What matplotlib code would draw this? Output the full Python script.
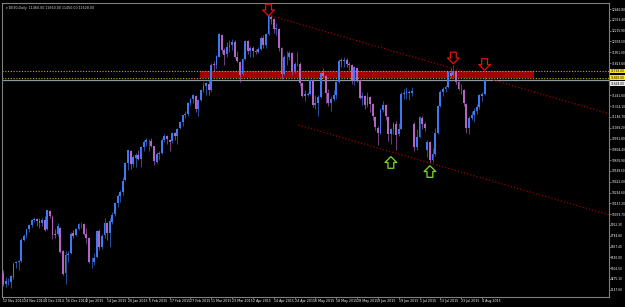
#!/usr/bin/env python3

import matplotlib
matplotlib.use("Agg")
import matplotlib.pyplot as plt
from matplotlib.path import Path
from matplotlib.transforms import blended_transform_factory

# daily bars, 12 Nov 2014 .. 5 Aug 2015 (index = bar number)
opens = [9350, 9215, 9250, 9240, 9300, 9460, 9470, 9490, 9740, 9790, 9860, 9915, 9975,
         9980, 9960, 9935, 9975, 9860, 10080, 10010, 9800, 9800, 9880, 9600, 9340, 9560,
         9580, 9815, 9790, 9870, 9920, 9925, 9800, 9760, 9470, 9475, 9530, 9840, 9650,
         9790, 9930, 9820, 9950, 10040, 10170, 10250, 10300, 10440, 10640, 10790, 10630,
         10700, 10740, 10690, 10830, 10890, 10900, 10900, 10840, 10660, 10750, 10760, 10920,
         10960, 10920, 10900, 11000, 10960, 11060, 11130, 11210, 11220, 11350, 11400, 11440,
         11280, 11390, 11500, 11550, 11580, 11500, 11810, 11800, 11900, 12160, 11980, 11930,
         12010, 12040, 12070, 11900, 11840, 11690, 11870, 12080, 11970, 12000, 11960, 11950,
         11990, 12120, 12040, 12170, 12370, 12340, 12230, 12230, 12000, 11690, 11890, 11900,
         11940, 11720, 11810, 11810, 11590, 11430, 11450, 11460, 11620, 11330, 11350, 11420,
         11710, 11670, 11470, 11350, 11400, 11450, 11600, 11850, 11850, 11860, 11810, 11800,
         11620, 11770, 11620, 11410, 11440, 11330, 11420, 11340, 11190, 11060, 11000, 11270,
         11330, 11190, 10980, 11040, 11100, 10980, 11050, 11460, 11470, 11470, 11470, 11100,
         10830, 10950, 11180, 11100, 10800, 10890, 10680, 10750, 11000, 11320, 11480, 11520,
         11540, 11710, 11680, 11730, 11600, 11520, 11510, 11340, 11060, 11170, 11210, 11260,
         11300, 11440, 11460]
highs = [9380, 9300, 9290, 9320, 9470, 9490, 9500, 9760, 9800, 9870, 9920, 9980, 10010,
         10000, 9990, 9990, 10020, 10093, 10090, 10030, 9870, 9930, 9890, 9620, 9600, 9600,
         9830, 9850, 9880, 9940, 9950, 9930, 9880, 9770, 9540, 9580, 9850, 9860, 9800,
         10000, 9950, 10000, 10060, 10180, 10280, 10320, 10480, 10660, 10800, 10800, 10740,
         10760, 10800, 10840, 10910, 10940, 10930, 10940, 10850, 10770, 10780, 10940, 10980,
         10970, 10930, 11010, 11010, 11060, 11140, 11210, 11260, 11360, 11410, 11460, 11450,
         11400, 11520, 11600, 11600, 11620, 11820, 11850, 11920, 12180, 12170, 12000, 12070,
         12100, 12110, 12090, 11960, 11850, 11880, 12100, 12100, 12020, 12020, 11990, 12010,
         12140, 12160, 12180, 12390, 12390, 12350, 12300, 12240, 12010, 11920, 11960, 11970,
         11950, 11840, 11950, 11830, 11600, 11500, 11480, 11640, 11640, 11450, 11450, 11720,
         11760, 11680, 11520, 11440, 11500, 11610, 11870, 11880, 11890, 11880, 11830, 11810,
         11790, 11780, 11640, 11480, 11450, 11480, 11440, 11350, 11200, 11080, 11290, 11370,
         11340, 11200, 11060, 11130, 11140, 11120, 11480, 11520, 11540, 11500, 11540, 11130,
         11050, 11200, 11200, 11130, 10920, 10900, 10820, 11060, 11330, 11500, 11540, 11560,
         11730, 11760, 11800, 11740, 11620, 11580, 11520, 11350, 11200, 11260, 11290, 11340,
         11460, 11480, 11660]
lows = [9190, 9180, 9200, 9170, 9280, 9400, 9380, 9480, 9720, 9760, 9830, 9890, 9950,
        9900, 9880, 9900, 9840, 9850, 9990, 9750, 9760, 9780, 9580, 9320, 9220, 9480,
        9570, 9760, 9780, 9850, 9880, 9790, 9700, 9460, 9400, 9440, 9520, 9620, 9630,
        9760, 9740, 9650, 9920, 10020, 10130, 10180, 10260, 10430, 10560, 10570, 10600,
        10600, 10680, 10600, 10780, 10850, 10780, 10830, 10620, 10640, 10680, 10750, 10890,
        10870, 10790, 10880, 10920, 10870, 11040, 11080, 11180, 11200, 11330, 11350, 11250,
        11200, 11380, 11480, 11450, 11450, 11480, 11730, 11750, 11890, 11940, 11800, 11900,
        11950, 11980, 11880, 11830, 11600, 11680, 11860, 11930, 11900, 11900, 11930, 11940,
        11980, 12000, 12000, 12160, 12290, 12180, 12160, 11960, 11640, 11680, 11800, 11860,
        11680, 11700, 11790, 11550, 11420, 11380, 11430, 11450, 11310, 11280, 11200, 11410,
        11650, 11350, 11320, 11260, 11380, 11400, 11590, 11780, 11780, 11780, 11740, 11580,
        11560, 11600, 11400, 11330, 11280, 11300, 11240, 11150, 11030, 10860, 10990, 11250,
        11150, 10900, 10870, 10980, 10800, 10960, 11040, 11400, 11400, 11390, 11430, 10780,
        10800, 10940, 11050, 11020, 10720, 10640, 10660, 10730, 10990, 11300, 11430, 11480,
        11530, 11650, 11660, 11580, 11500, 11460, 11320, 11000, 10990, 11150, 11130, 11220,
        11280, 11380, 11450]
closes = [9210, 9250, 9252, 9306, 9456, 9472, 9483, 9732, 9785, 9861, 9915, 9974, 9980,
          9963, 9934, 9971, 9851, 10087, 10014, 9799, 9799, 9903, 9594, 9334, 9563, 9564,
          9811, 9787, 9865, 9922, 9927, 9806, 9764, 9473, 9470, 9518, 9838, 9648, 9782,
          9941, 9817, 9960, 10032, 10168, 10257, 10299, 10436, 10649, 10798, 10628, 10710,
          10738, 10694, 10828, 10890, 10911, 10905, 10846, 10663, 10754, 10752, 10919, 10963,
          10924, 10895, 11001, 10961, 11050, 11131, 11205, 11211, 11354, 11401, 11448, 11280,
          11390, 11504, 11551, 11582, 11500, 11806, 11799, 11901, 12167, 11980, 11922, 12010,
          12040, 12076, 11896, 11844, 11683, 11868, 12086, 11967, 12001, 11968, 11950, 11990,
          12123, 12036, 12166, 12375, 12339, 12227, 12231, 11998, 11689, 11892, 11895, 11939,
          11723, 11811, 11811, 11586, 11432, 11454, 11460, 11623, 11327, 11351, 11417, 11709,
          11673, 11472, 11351, 11404, 11447, 11594, 11853, 11848, 11864, 11815, 11800, 11625,
          11772, 11625, 11413, 11436, 11327, 11419, 11340, 11197, 11064, 11001, 11265, 11333,
          11196, 10984, 11044, 11100, 10978, 11040, 11460, 11471, 11472, 11473, 11492, 10832,
          10945, 11181, 11099, 11059, 10890, 10676, 10747, 10997, 11316, 11485, 11516, 11539,
          11716, 11673, 11734, 11604, 11520, 11512, 11347, 11057, 11173, 11212, 11257, 11308,
          11444, 11456, 11628]

date_labels = ["12 Nov 2014", "24 Nov 2014", "4 Dec 2014", "16 Dec 2014", "2 Jan 2015",
               "14 Jan 2015", "26 Jan 2015", "5 Feb 2015", "17 Feb 2015", "27 Feb 2015",
               "11 Mar 2015", "23 Mar 2015", "2 Apr 2015", "14 Apr 2015", "24 Apr 2015",
               "6 May 2015", "18 May 2015", "28 May 2015", "9 Jun 2015", "19 Jun 2015",
               "1 Jul 2015", "13 Jul 2015", "23 Jul 2015", "4 Aug 2015"]

price_ticks = [12460.8, 12333.4, 12205.9, 12078.5, 11951.0, 11823.6, 11441.6,
               11314.1, 11186.7, 11059.2, 10931.8, 10804.4, 10676.9, 10549.5, 10422.0,
               10294.6, 10167.2, 10039.7, 9912.3, 9784.8, 9657.4, 9530.0, 9402.5, 9275.1,
               9147.6]

# drawn objects
zone_x = [75.5, 204]
zone_levels = [11729.0, 11650.0]
upper_line = ([102, 233], [12390, 11224])
lower_line = ([113.5, 233], [11092, 10030])
sell_arrows = ([102, 173, 185], [12449, 11883, 11806])
buy_arrows = ([149, 164], [10650, 10543])

UP = "#3d78f5"
DOWN = "#b465c4"
BG = "black"
GRID = "#7f7f7f"
FS = 2.1


def arrow_path(down=True):
    pts = [(-0.25, 0.5), (0.25, 0.5), (0.25, 0.0), (0.5, 0.0), (0.0, -0.5),
           (-0.5, 0.0), (-0.25, 0.0), (-0.25, 0.5)]
    if not down:
        pts = [(x, -y) for x, y in pts]
    return Path(pts, closed=True)


def main():
    fig = plt.figure(figsize=(6.25, 3.07), dpi=100, facecolor=BG)
    ax = fig.add_axes([2 / 625, 10 / 307, 607 / 625, 294 / 307], facecolor=BG)

    n = len(closes)
    ax.set_xlim(-0.4, 232.8)
    ax.set_ylim(9062, 12532)

    # zone + level lines
    ax.fill_between(zone_x, zone_levels[1], zone_levels[0], color="#a30000", lw=0, zorder=1)
    for lv in zone_levels:
        ax.axhline(lv, color="#c9a227", ls=(0, (1, 1.5)), lw=0.8, zorder=2)
    ax.axhline(closes[-1], color="#8c96a3", lw=0.9, zorder=2)

    # candles
    for i in range(n):
        o, h, l, c = opens[i], highs[i], lows[i], closes[i]
        col = UP if c >= o else DOWN
        ax.vlines(i, l, h, color=col, lw=0.6, alpha=0.75, zorder=3)
        ax.bar(i, max(abs(c - o), 6), bottom=min(o, c), width=0.72, color=col,
               lw=0, zorder=4)

    # channel
    ax.plot(*upper_line, color="#9b0000", ls=(0, (1, 1.6)), lw=0.9, zorder=5)
    ax.plot(*lower_line, color="#9b0000", ls=(0, (1, 1.6)), lw=0.9, zorder=5)

    # arrows
    ax.scatter(*sell_arrows, marker=arrow_path(True), s=70, facecolors="none",
               edgecolors="#e01010", linewidths=0.9, zorder=6)
    ax.scatter(*buy_arrows, marker=arrow_path(False), s=70, facecolors="none",
               edgecolors="#7ddc1f", linewidths=0.9, zorder=6)

    # axes look
    for side in ["left", "top", "right", "bottom"]:
        ax.spines[side].set_color(GRID)
        ax.spines[side].set_linewidth(0.8)
    ax.yaxis.tick_right()
    ax.set_yticks(price_ticks)
    ax.set_yticklabels(["%.2f" % v for v in price_ticks])
    ax.set_xticks(range(0, 8 * len(date_labels), 8))
    ax.set_xticklabels(date_labels)
    ax.tick_params(colors=GRID, labelcolor="white", labelsize=FS, length=1.2, width=0.6, pad=0.5)
    ax.tick_params(axis="x", labelsize=2.3)
    for lab in ax.get_xticklabels():
        lab.set_ha("left")

    tr = blended_transform_factory(ax.transAxes, ax.transData)
    for lv in zone_levels:
        ax.text(1.003, lv, "%.2f" % lv, transform=tr, fontsize=FS, color="black",
                va="center", ha="left", clip_on=False,
                bbox=dict(boxstyle="square,pad=0.15", fc="#f5e51c", ec="none"))
    ax.text(1.003, closes[-1] - 50, "%.2f" % closes[-1], transform=tr, fontsize=FS,
            color="black", va="center", ha="left", clip_on=False,
            bbox=dict(boxstyle="square,pad=0.15", fc="#e6e6e6", ec="none"))

    title = "\u25be DE30,Daily  %.2f %.2f %.2f %.2f" % (opens[-1], highs[-1], lows[-1], closes[-1])
    ax.text(0.006, 0.99, title, transform=ax.transAxes, fontsize=2.3, color="#d8d8d8",
            va="top", ha="left")

    fig.savefig("out.png", dpi=100, facecolor=BG)


if __name__ == "__main__":
    main()
